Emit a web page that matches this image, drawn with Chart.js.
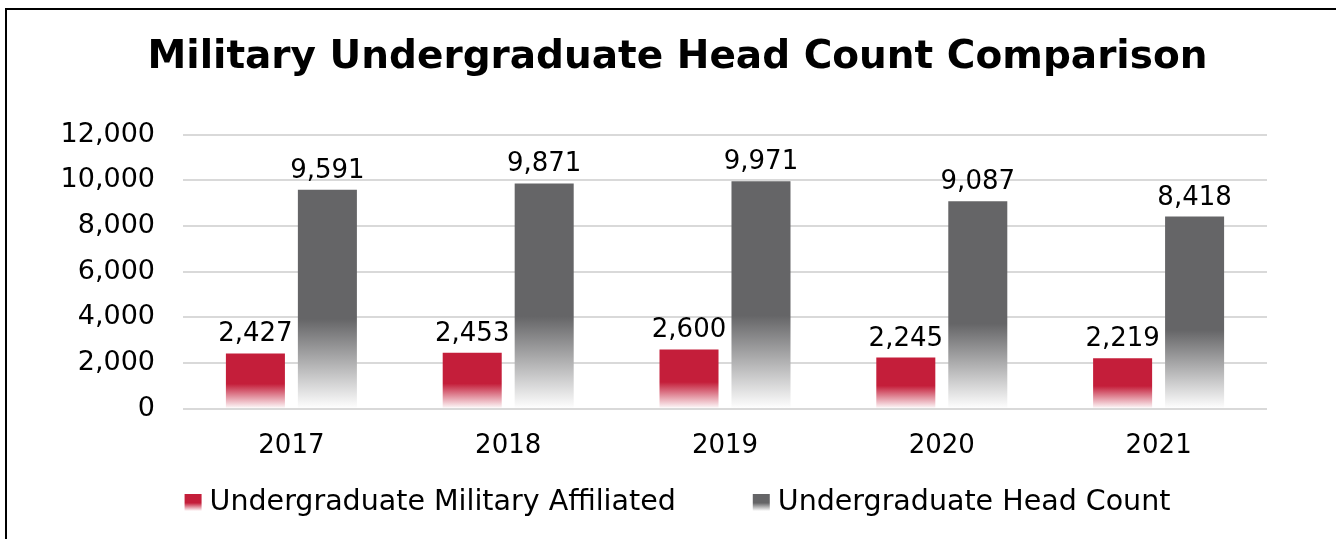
<!DOCTYPE html>
<html>
<head>
<meta charset="utf-8">
<script src="https://cdn.jsdelivr.net/npm/chart.js@4.4.1/dist/chart.umd.min.js"></script>
<style>
  html, body { margin: 0; padding: 0; background: #fff; overflow: hidden; }
  #wrap { position: absolute; left: 0; top: 0; width: 1336px; height: 539px; }
  #frame { position: absolute; left: 5px; top: 8px; width: 1400px; height: 600px; border: 2px solid #000; box-sizing: border-box; }
</style>
</head>
<body>
<div id="frame"></div>
<div id="wrap"><canvas id="chart"></canvas></div>
<script>
// chart values
const years = ['2017', '2018', '2019', '2020', '2021'];
const militaryAffiliated = [2427, 2453, 2600, 2245, 2219];
const headCount = [9591, 9871, 9971, 9087, 8418];
const yTicks = [0, 2000, 4000, 6000, 8000, 10000, 12000];

const RED = '#C41E3A';
const GRAY = '#656567';
const FONT = "'DejaVu Sans', sans-serif";

//Fill a bar solid at the top and let it fade to white at the bottom
function fadeFill(color, solidStop) {
    return (ctx) => {
        const chart = ctx.chart;
        const y = chart.scales.y;
        if (!chart.chartArea || !y || ctx.raw === undefined) {
            return color;
        }
        const top = y.getPixelForValue(ctx.raw);
        const base = y.getPixelForValue(0);
        if (!isFinite(top) || !isFinite(base) || base - top < 1) {
            return color;
        }
        const g = chart.ctx.createLinearGradient(0, top, 0, base);
        g.addColorStop(0, color);
        g.addColorStop(solidStop, color);
        g.addColorStop(1, '#ffffff');
        return g;
    };
}

//Writes the value above each bar
const valueLabels = {
    id: 'valueLabels',
    afterDatasetsDraw(chart) {
        const ctx = chart.ctx;
        ctx.save();
        ctx.font = '26px ' + FONT;
        ctx.fillStyle = '#000';
        ctx.textAlign = 'center';
        ctx.textBaseline = 'alphabetic';
        chart.data.datasets.forEach((ds, i) => {
            chart.getDatasetMeta(i).data.forEach((bar, j) => {
                ctx.fillText(ds.data[j].toLocaleString('en-US'), bar.x, bar.y - 12);
            });
        });
        ctx.restore();
    }
};

//The y axis is kept narrow so the plot starts where the reference does,
//widen its clip box afterwards so the tick labels are not cut
const widenYAxis = {
    id: 'widenYAxis',
    afterLayout(chart) {
        chart.scales.y.left = 0;
    }
};

//Legend row under the axis: faded square + label, spaced wider than the built-in legend allows
const swatchLegend = {
    id: 'swatchLegend',
    afterDraw(chart, args, opts) {
        const ctx = chart.ctx;
        const box = 17;
        const boxGap = 8;
        const itemGap = 77;
        ctx.save();
        ctx.font = opts.fontSize + 'px ' + FONT;
        let items = chart.data.datasets.map(ds => ({
            text: ds.label,
            color: ds.legendColor,
            width: ctx.measureText(ds.label).width
        }));
        let total = items.reduce((s, it) => s + box + boxGap + it.width, 0) + itemGap * (items.length - 1);
        const cx = (chart.titleBlock.left + chart.titleBlock.right) / 2;
        const cy = chart.scales.x.bottom + opts.offset;
        let x = cx - total / 2;
        items.forEach((it) => {
            let g = ctx.createLinearGradient(0, cy - 9, 0, cy + 9);
            g.addColorStop(0, it.color);
            g.addColorStop(0.55, it.color);
            g.addColorStop(1, '#ffffff');
            ctx.fillStyle = g;
            ctx.fillRect(x, cy - 8, box, 18);
            ctx.fillStyle = '#000';
            ctx.textAlign = 'left';
            ctx.textBaseline = 'middle';
            ctx.fillText(it.text, x + box + boxGap, cy + 1);
            x += box + boxGap + it.width + itemGap;
        });
        ctx.restore();
    }
};

new Chart(document.getElementById('chart'), {
    type: 'bar',
    data: {
        labels: years,
        datasets: [
            {
                label: 'Undergraduate Military Affiliated',
                data: militaryAffiliated,
                backgroundColor: fadeFill(RED, 0.55),
                legendColor: RED,
                categoryPercentage: 0.664,
                barPercentage: 0.82
            },
            {
                label: 'Undergraduate Head Count',
                data: headCount,
                backgroundColor: fadeFill(GRAY, 0.59),
                legendColor: GRAY,
                categoryPercentage: 0.664,
                barPercentage: 0.82
            }
        ]
    },
    options: {
        responsive: true,
        maintainAspectRatio: false,
        animation: false,
        layout: {
            padding: { left: 88, right: 69, top: 22, bottom: 63 }
        },
        scales: {
            x: {
                grid: { display: false },
                border: { display: false },
                ticks: {
                    color: '#000',
                    font: { family: FONT, size: 26 },
                    padding: 14
                }
            },
            y: {
                min: 0,
                max: 12000,
                afterBuildTicks: (axis) => {
                    axis.ticks = yTicks.map(v => ({ value: v }));
                },
                afterFit: (axis) => {
                    axis.width = 95;
                },
                grid: { color: '#d9d9d9', lineWidth: 2, drawTicks: false },
                border: { display: false },
                ticks: {
                    color: '#000',
                    font: { family: FONT, size: 27 },
                    padding: 28,
                    callback: (v) => v.toLocaleString('en-US')
                }
            }
        },
        plugins: {
            title: {
                display: true,
                text: 'Military Undergraduate Head Count Comparison',
                color: '#000',
                font: { family: FONT, size: 39, weight: 'bold' },
                padding: { top: 12, bottom: 54 }
            },
            legend: { display: false },
            swatchLegend: { fontSize: 28.5, offset: 26 },
            tooltip: { enabled: false }
        }
    },
    plugins: [valueLabels, widenYAxis, swatchLegend]
});
</script>
</body>
</html>
